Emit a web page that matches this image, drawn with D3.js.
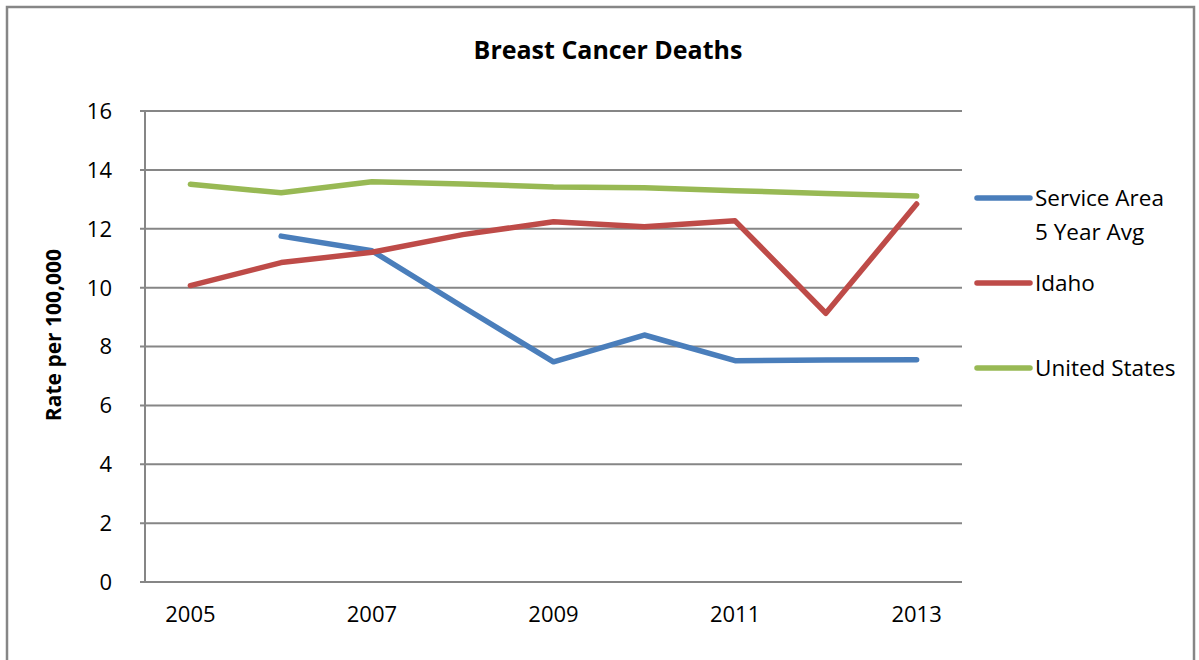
<!DOCTYPE html>
<html>
<head>
<meta charset="utf-8">
<script src="https://cdn.jsdelivr.net/npm/d3@7"></script>
<style>
  body { margin: 0; background: #fff; }
  svg text { font-family: "Open Sans", sans-serif; fill: #000; }
</style>
</head>
<body>
<script>
// chart data
var years = [2005, 2006, 2007, 2008, 2009, 2010, 2011, 2012, 2013];
var serviceArea = [null, 11.75, 11.25, 9.35, 7.48, 8.39, 7.52, 7.54, 7.55];
var idaho = [10.07, 10.85, 11.2, 11.8, 12.24, 12.07, 12.27, 9.13, 12.84];
var unitedStates = [13.51, 13.22, 13.6, 13.52, 13.42, 13.39, 13.29, 13.2, 13.11];
var yTicks = [0, 2, 4, 6, 8, 10, 12, 14, 16];
var xLabels = [2005, 2007, 2009, 2011, 2013];

var series = [
  { name: ["Service Area", "5 Year Avg"], values: serviceArea, color: "#4a7ebb" },
  { name: ["Idaho"], values: idaho, color: "#be4b48" },
  { name: ["United States"], values: unitedStates, color: "#98b954" }
];

var W = 1199, H = 660;
var svg = d3.select("body").append("svg")
    .attr("width", W)
    .attr("height", H);

// outer frame
svg.append("rect")
    .attr("x", 7).attr("y", 7)
    .attr("width", 1187).attr("height", 670)
    .attr("fill", "#fff")
    .attr("stroke", "#868686")
    .attr("stroke-width", 2.5);

var plotL = 145, plotR = 962, plotT = 111, plotB = 582;

var x = d3.scaleBand().domain(years).range([plotL, plotR]);
var y = d3.scaleLinear().domain([0, 16]).range([plotB, plotT]);

// gridlines
svg.append("g")
  .selectAll("line")
  .data(yTicks)
  .enter()
  .append("line")
    .attr("x1", plotL - 5)
    .attr("x2", plotR)
    .attr("y1", function(d) { return y(d); })
    .attr("y2", function(d) { return y(d); })
    .attr("stroke", "#868686")
    .attr("stroke-width", 2);

// y axis line
svg.append("line")
    .attr("x1", plotL).attr("x2", plotL)
    .attr("y1", plotT).attr("y2", plotB)
    .attr("stroke", "#868686")
    .attr("stroke-width", 2);

// y tick labels
svg.append("g")
  .selectAll("text")
  .data(yTicks)
  .enter()
  .append("text")
    .attr("x", 112)
    .attr("y", function(d) { return y(d); })
    .attr("dy", "0.36em")
    .attr("text-anchor", "end")
    .style("font-size", "22px")
    .text(function(d) { return d; });

// x labels
svg.append("g")
  .selectAll("text")
  .data(xLabels)
  .enter()
  .append("text")
    .attr("x", function(d) { return x(d) + x.bandwidth() / 2; })
    .attr("y", 614)
    .attr("dy", "0.36em")
    .attr("text-anchor", "middle")
    .style("font-size", "22px")
    .text(function(d) { return d; });

// lines
var line = d3.line()
    .defined(function(d) { return d.v != null; })
    .x(function(d) { return x(d.year) + x.bandwidth() / 2; })
    .y(function(d) { return y(d.v); });

series.forEach(function(s) {
  var pts = years.map(function(yr, i) { return { year: yr, v: s.values[i] }; });
  svg.append("path")
    .datum(pts)
    .attr("d", line)
    .attr("fill", "none")
    .attr("stroke", s.color)
    .attr("stroke-width", 5.5)
    .attr("stroke-linecap", "round")
    .attr("stroke-linejoin", "round");
});

// title
svg.append("text")
    .attr("x", 608)
    .attr("y", 50)
    .attr("dy", "0.36em")
    .attr("text-anchor", "middle")
    .style("font-size", "25px")
    .style("font-weight", "bold")
    .text("Breast Cancer Deaths");

// y axis title
svg.append("text")
    .attr("transform", "translate(53,335) rotate(-90)")
    .attr("dy", "0.36em")
    .attr("text-anchor", "middle")
    .style("font-size", "21px")
    .style("font-weight", "bold")
    .text("Rate per 100,000");

// legend
var legendY = [198, 283, 368];
series.forEach(function(s, i) {
  var g = svg.append("g");
  g.append("line")
    .attr("x1", 977).attr("x2", 1030)
    .attr("y1", legendY[i]).attr("y2", legendY[i])
    .attr("stroke", s.color)
    .attr("stroke-width", 5.5)
    .attr("stroke-linecap", "round");
  s.name.forEach(function(t, j) {
    g.append("text")
      .attr("x", 1035)
      .attr("y", legendY[i] + j * 34)
      .attr("dy", "0.36em")
      .style("font-size", "22.5px")
      .text(t);
  });
});
</script>
</body>
</html>
